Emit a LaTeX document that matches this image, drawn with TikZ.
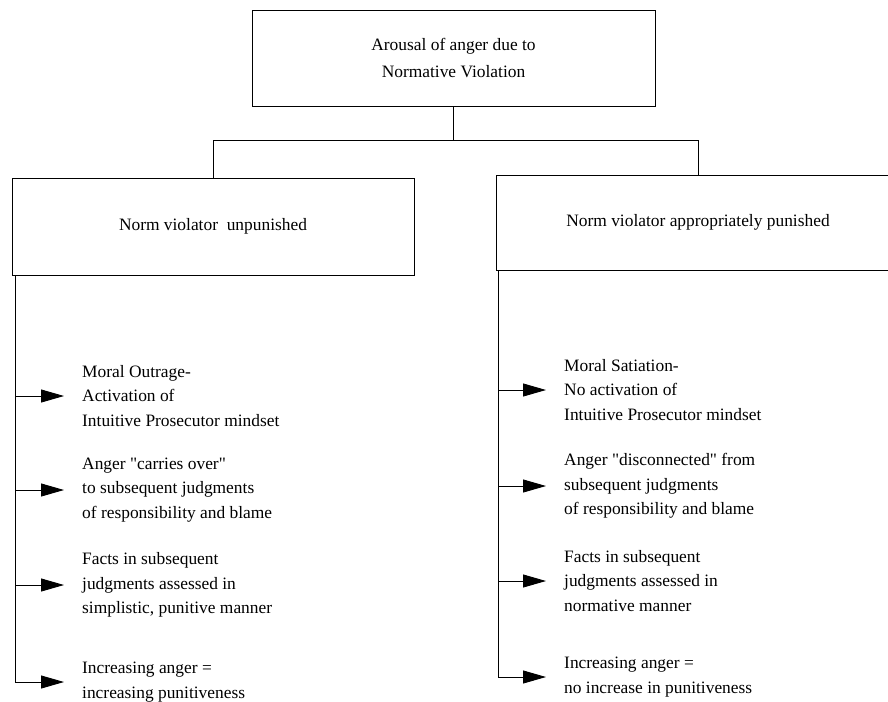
\documentclass[tikz,border=0pt]{standalone}
\usepackage{fontspec}
\setmainfont{Liberation Serif}
\usetikzlibrary{arrows.meta}

\tikzset{
  box/.style={draw, line width=1pt, rectangle, align=center, inner sep=0pt},
  item/.style={anchor=west, align=left, inner sep=0pt,
    font=\fontsize{17.4}{24.5}\selectfont},
  arr/.style={line width=0.9pt, -{Triangle[length=23pt,width=13pt]}, shorten >=18pt}
}

\begin{document}
\begin{tikzpicture}[x=1pt,y=-1pt]
  \useasboundingbox (0,0) rectangle (888,701);

\node[box, minimum width=403pt, minimum height=95pt,
  font=\fontsize{17.4}{27}\selectfont] (top) at (453.5,58.5)
  {Arousal of anger due to\\Normative Violation};

\node[box, minimum width=402pt, minimum height=97pt,
  font=\fontsize{17.4}{24}\selectfont] (unpun) at (213,226.5)
  {Norm violator~ unpunished};
\node[box, minimum width=404pt, minimum height=95pt,
  font=\fontsize{17.4}{24}\selectfont] (pun) at (698,222.5)
  {Norm violator appropriately punished};

\coordinate (split) at (453.5,140);
\draw[line width=0.9pt] (top.south) -- (split);
\draw[line width=0.9pt] (split) -| (unpun.north);
\draw[line width=0.9pt] (split) -| (pun.north);

% left column
\node[item] (out1) at (82,396) {Moral Outrage-\\Activation of\\Intuitive Prosecutor mindset};
\node[item] (out2) at (82,490) {Anger \textquotedbl carries over\textquotedbl\\to subsequent judgments\\of responsibility and blame};
\node[item] (out3) at (82,585) {Facts in subsequent\\judgments assessed in\\simplistic, punitive manner};
\node[item] (out4) at (82,682) {Increasing anger =\\increasing punitiveness};

\coordinate (lrail) at (15,275);
\foreach \n in {out1,out2,out3}
  \draw[arr] (lrail |- \n.west) -- (\n.west);
\draw[arr] (lrail) |- (out4.west);

% right column
\node[item] (sat1) at (564,390) {Moral Satiation-\\No activation of\\Intuitive Prosecutor mindset};
\node[item] (sat2) at (564,486) {Anger \textquotedbl disconnected\textquotedbl{} from\\subsequent judgments\\of responsibility and blame};
\node[item] (sat3) at (564,581) {Facts in subsequent\\judgments assessed in\\normative manner};
\node[item] (sat4) at (564,677) {Increasing anger =\\no increase in punitiveness};

\coordinate (rrail) at (498,270);
\foreach \n in {sat1,sat2,sat3}
  \draw[arr] (rrail |- \n.west) -- (\n.west);
\draw[arr] (rrail) |- (sat4.west);
\end{tikzpicture}
\end{document}
